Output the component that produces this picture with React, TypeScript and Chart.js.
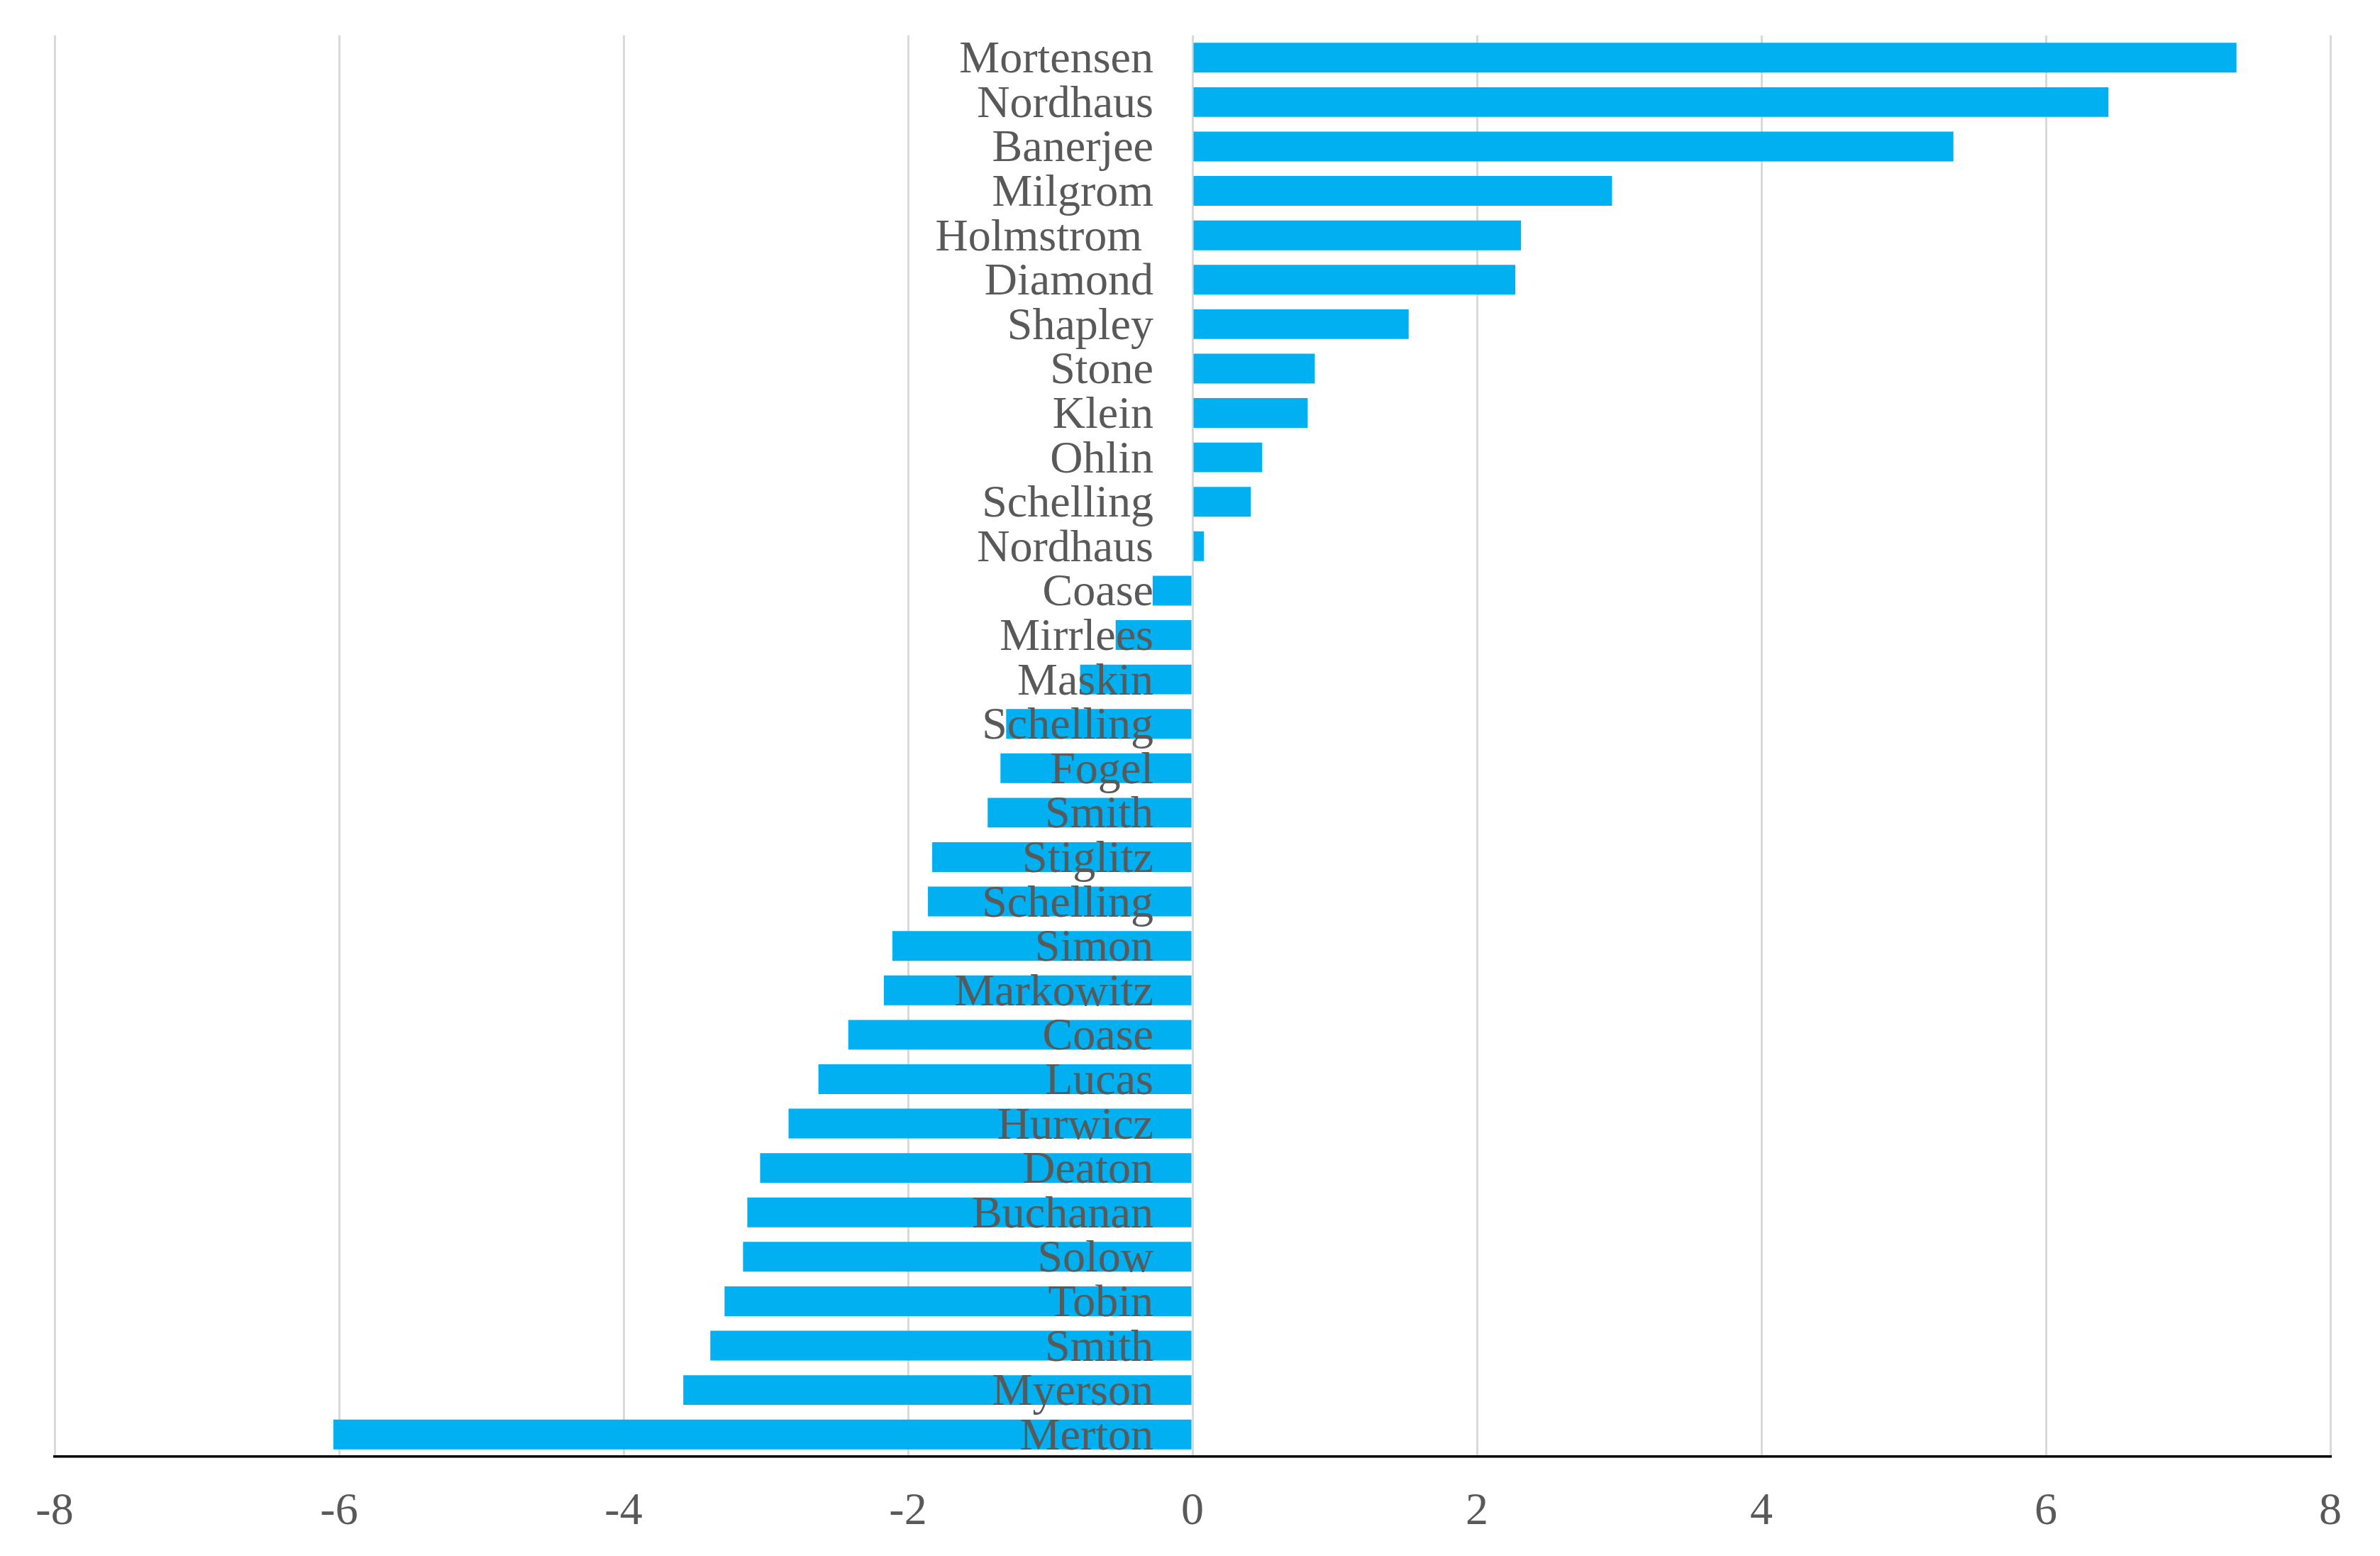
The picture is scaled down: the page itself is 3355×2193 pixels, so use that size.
import React, { useEffect, useRef } from "react";
import { Chart, registerables } from "chart.js";

Chart.register(...registerables);

const categories: string[] = [
  "Mortensen", "Nordhaus", "Banerjee", "Milgrom", "Holmstrom ", "Diamond", "Shapley", "Stone",
  "Klein", "Ohlin", "Schelling", "Nordhaus", "Coase", "Mirrlees", "Maskin", "Schelling",
  "Fogel", "Smith", "Stiglitz", "Schelling", "Simon", "Markowitz", "Coase", "Lucas",
  "Hurwicz", "Deaton", "Buchanan", "Solow", "Tobin", "Smith", "Myerson", "Merton",
];

const values: number[] = [
  7.34, 6.44, 5.35, 2.95, 2.31, 2.27, 1.52, 0.86,
  0.81, 0.49, 0.41, 0.08, -0.28, -0.54, -0.79, -1.31,
  -1.35, -1.44, -1.83, -1.86, -2.11, -2.17, -2.42, -2.63,
  -2.84, -3.04, -3.13, -3.16, -3.29, -3.39, -3.58, -6.04,
];

const xMin = -8;
const xMax = 8;
const xStep = 2;

const FONT = "'Liberation Serif', 'Times New Roman', serif";
const TEXT_COLOR = "#595959";
const BAR_COLOR = "#00B0F0";

const categoryLabelsPlugin = {
  id: "categoryLabelsAtZero",
  afterDatasetsDraw(chart: any) {
    const { ctx, scales } = chart;
    const xs = scales.x;
    const ys = scales.y;
    const x0 = xs.getPixelForValue(0) - 55;
    ctx.save();
    ctx.font = `64px ${FONT}`;
    ctx.fillStyle = TEXT_COLOR;
    ctx.textAlign = "right";
    ctx.textBaseline = "alphabetic";
    categories.forEach((label, i) => {
      const y = ys.getPixelForValue(i);
      ctx.fillText(label, x0, y + 21);
    });
    ctx.restore();
  },
};

export default function App() {
  const canvasRef = useRef<HTMLCanvasElement | null>(null);

  useEffect(() => {
    document.body.style.margin = "0";
    const canvas = canvasRef.current;
    if (!canvas) return;
    const chart = new Chart(canvas, {
      type: "bar",
      data: {
        labels: categories,
        datasets: [
          {
            data: values,
            backgroundColor: BAR_COLOR,
            borderWidth: 0,
            categoryPercentage: 1,
            barPercentage: 0.67,
          },
        ],
      },
      options: {
        indexAxis: "y",
        animation: false,
        responsive: false,
        devicePixelRatio: 1,
        layout: { padding: { left: 77, right: 70, top: 50, bottom: 0 } },
        plugins: {
          legend: { display: false },
          tooltip: { enabled: false },
        },
        scales: {
          x: {
            type: "linear",
            min: xMin,
            max: xMax,
            ticks: {
              stepSize: xStep,
              color: TEXT_COLOR,
              font: { family: FONT, size: 64 },
              padding: 40,
              maxRotation: 0,
              autoSkip: false,
            },
            grid: { color: "#D9D9D9", lineWidth: 3, drawTicks: false },
            border: { color: "#000000", width: 3.5 },
            afterFit: (scale: any) => {
              scale.height = 140;
            },
          },
          y: {
            type: "category",
            display: false,
          },
        },
      },
      plugins: [categoryLabelsPlugin],
    });
    return () => chart.destroy();
  }, []);

  return (
    <div style={{ position: "fixed", left: 0, top: 0, width: 3355, height: 2193, background: "#fff" }}>
      <canvas ref={canvasRef} width={3355} height={2193} style={{ width: 3355, height: 2193 }} />
    </div>
  );
}
